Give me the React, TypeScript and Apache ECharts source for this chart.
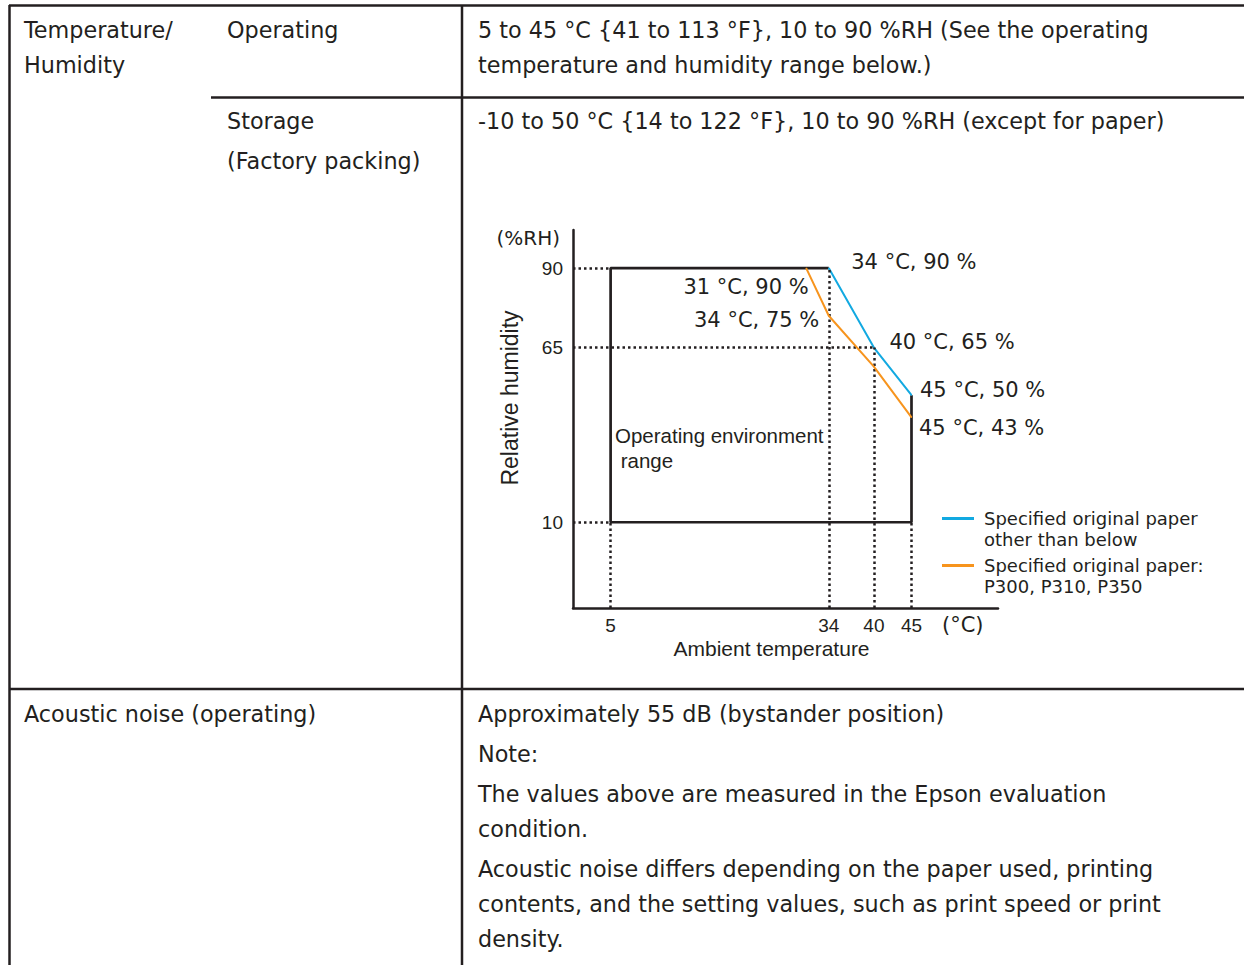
import React, { useEffect, useRef } from 'react';
import * as echarts from 'echarts';

// ---- data ----
const xTicks = [5, 34, 40, 45];
const yTicks = [10, 65, 90];
const operatingBox = [[34, 90], [5, 90], [5, 10], [45, 10], [45, 50]];
const standardPaper = [[34, 90], [40, 65], [45, 50]];
const p300Paper = [[31, 90], [34, 75], [40, 59], [45, 43]];
const hGuides = [[90, 5], [65, 40], [10, 5]]; // [RH, up to temperature]
const vGuides = [[5, 10], [34, 90], [40, 65], [45, 10]]; // [temperature, up to RH]
const seriesNames = [
  'Specified original paper other than below',
  'Specified original paper: P300, P310, P350',
];
const legendLabels = [
  'Specified original paper\nother than below',
  'Specified original paper:\nP300, P310, P350',
];
const boxLabel = 'Operating environment\n range';
const rowLabels = ['Temperature/', 'Humidity'];
const operatingLabel = ['Operating'];
const storageLabel = ['Storage', '(Factory packing)'];
const operatingSpec = [
  '5 to 45 °C {41 to 113 °F}, 10 to 90 %RH (See the operating',
  'temperature and humidity range below.)',
];
const storageSpec = ['-10 to 50 °C {14 to 122 °F}, 10 to 90 %RH (except for paper)'];
const noiseLabel = ['Acoustic noise (operating)'];
const noiseSpec = [
  'Approximately 55 dB (bystander position)',
  'Note:',
  'The values above are measured in the Epson evaluation',
  'condition.',
  'Acoustic noise differs depending on the paper used, printing',
  'contents, and the setting values, such as print speed or print',
  'density.',
];

const INK = '#231f20';
const BLUE = '#12a9e1';
const ORANGE = '#f7941d';
const GOTHIC = "'DejaVu Sans'";
const ARIAL = "'Liberation Sans'";
const BODY = 22.3;

function txt(x: number, y: number, text: string, size = BODY, family = GOTHIC, align = 'left', lineHeight?: number) {
  return {
    type: 'text',
    x,
    y,
    silent: true,
    style: {
      text,
      fill: INK,
      font: `${size}px ${family}`,
      fontSize: size,
      fontFamily: family,
      lineHeight: lineHeight || size * 1.2,
      align,
      textAlign: align,
      verticalAlign: 'middle',
      textVerticalAlign: 'middle',
    },
  };
}
function ln(x1: number, y1: number, x2: number, y2: number) {
  return {
    type: 'line',
    silent: true,
    shape: { x1, y1, x2, y2 },
    style: { stroke: INK, lineWidth: 2.5 },
  };
}

const fmt = (p: any) => `${p.value[0]} °C, ${p.value[1]} %`;
const labelBase = { show: true, fontFamily: GOTHIC, fontSize: 21, color: INK, formatter: fmt };
const stdLabelLayout = [
  { position: 'right', offset: [17, -6] },
  { position: 'right', offset: [10, -6] },
  { position: 'right', offset: [3, -5] },
];
const p300LabelLayout = [
  { position: 'left', offset: [8, 19] },
  { position: 'left', offset: [-4, 4] },
  null,
  { position: 'right', offset: [2, 11] },
];

export default function App() {
  const ref = useRef<HTMLDivElement>(null);
  useEffect(() => {
    if (!ref.current) return;
    const chart = echarts.init(ref.current, null, { renderer: 'svg' });

    const graphics: any[] = [];
    // table rules
    graphics.push(ln(9, 5.5, 1244, 5.5));
    graphics.push(ln(9.5, 5, 9.5, 965));
    graphics.push(ln(462, 5, 462, 965));
    graphics.push(ln(211, 97.5, 1244, 97.5));
    graphics.push(ln(9, 689, 1244, 689));
    // table texts
    rowLabels.forEach((t, i) => graphics.push(txt(24, 30 + i * 35, t)));
    operatingLabel.forEach((t, i) => graphics.push(txt(227, 30 + i * 35, t)));
    storageLabel.forEach((t, i) => graphics.push(txt(227, 121 + i * 40, t)));
    operatingSpec.forEach((t, i) => graphics.push(txt(478, 30 + i * 35, t)));
    storageSpec.forEach((t, i) => graphics.push(txt(478, 121 + i * 35, t)));
    noiseLabel.forEach((t, i) => graphics.push(txt(24, 714 + i * 35, t)));
    const noiseY = [714, 754, 794, 829, 869, 904, 939];
    noiseSpec.forEach((t, i) => graphics.push(txt(478, noiseY[i], t)));
    // chart annotations
    graphics.push(txt(560, 238, '(%RH)', 20, GOTHIC, 'right'));
    graphics.push(txt(942, 625, '(°C)', 21, GOTHIC, 'left'));
    graphics.push(txt(615, 448, boxLabel, 20.5, ARIAL, 'left', 25));

    const guideLines: any[] = [];
    hGuides.forEach(([rh, t]) => guideLines.push([{ coord: [0, rh] }, { coord: [t, rh] }]));
    vGuides.forEach(([t, rh]) => guideLines.push([{ coord: [t, -17] }, { coord: [t, rh] }]));

    chart.setOption({
      animation: false,
      backgroundColor: '#ffffff',
      textStyle: { fontFamily: GOTHIC },
      grid: { left: 573, top: 230, width: 425, height: 378, containLabel: false },
      xAxis: {
        type: 'value',
        min: 0,
        max: 56.5,
        name: 'Ambient temperature',
        nameLocation: 'middle',
        nameGap: 30,
        nameTextStyle: { fontFamily: ARIAL, fontSize: 21, color: INK, padding: [0, 28, 0, 0] },
        axisLine: { onZero: false, lineStyle: { color: INK, width: 2.5 } },
        axisTick: { show: false },
        splitLine: { show: false },
        axisLabel: { customValues: xTicks, fontFamily: ARIAL, fontSize: 19, color: INK, margin: 8 },
      },
      yAxis: {
        type: 'value',
        min: -17,
        max: 102,
        name: 'Relative humidity',
        nameLocation: 'middle',
        nameGap: 52,
        nameTextStyle: { fontFamily: ARIAL, fontSize: 23, color: INK, padding: [0, 0, 0, 42] },
        axisLine: { onZero: false, lineStyle: { color: INK, width: 2.5 } },
        axisTick: { show: false },
        splitLine: { show: false },
        axisLabel: { customValues: yTicks, fontFamily: ARIAL, fontSize: 19, color: INK, margin: 10 },
      },
      legend: {
        data: seriesNames,
        orient: 'vertical',
        left: 942,
        top: 487,
        padding: 0,
        icon: 'rect',
        itemWidth: 32,
        itemHeight: 3,
        itemGap: -16,
        selectedMode: false,
        formatter: (name: string) => '\n' + legendLabels[seriesNames.indexOf(name)],
        textStyle: { fontFamily: GOTHIC, fontSize: 18, color: INK, lineHeight: 21, padding: [0, 0, 0, 5] },
      },
      series: [
        {
          name: 'Operating environment range',
          type: 'line',
          data: operatingBox,
          symbol: 'none',
          silent: true,
          lineStyle: { color: INK, width: 2.7 },
          z: 3,
          markLine: {
            silent: true,
            symbol: ['none', 'none'],
            label: { show: false },
            lineStyle: { color: INK, width: 2.5, type: [2.5, 3] },
            data: guideLines,
          },
        },
        {
          name: seriesNames[0],
          type: 'line',
          symbol: 'circle',
          symbolSize: 1,
          itemStyle: { color: BLUE },
          lineStyle: { color: BLUE, width: 2 },
          silent: true,
          z: 4,
          data: standardPaper.map((v, i) => ({ value: v, label: { ...labelBase, ...stdLabelLayout[i] } })),
        },
        {
          name: seriesNames[1],
          type: 'line',
          symbol: 'circle',
          symbolSize: 1,
          itemStyle: { color: ORANGE },
          lineStyle: { color: ORANGE, width: 2 },
          silent: true,
          z: 5,
          data: p300Paper.map((v, i) => ({
            value: v,
            label: p300LabelLayout[i] ? { ...labelBase, ...p300LabelLayout[i] } : { show: false },
          })),
        },
      ],
      graphic: graphics,
    });
    return () => chart.dispose();
  }, []);
  return <div ref={ref} style={{ position: 'absolute', left: 0, top: 0, width: 1244, height: 965 }} />;
}
